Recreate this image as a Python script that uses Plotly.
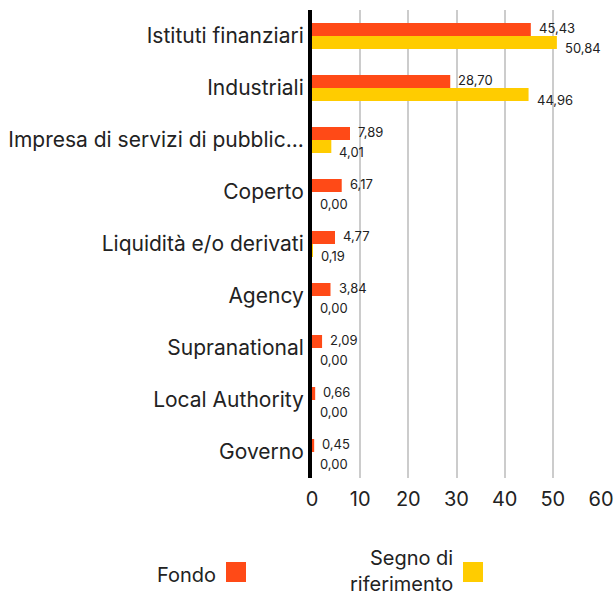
import plotly.graph_objects as go

categories = ["Istituti finanziari", "Industriali", "Impresa di servizi di pubblic...",
              "Coperto", "Liquidità e/o derivati", "Agency", "Supranational",
              "Local Authority", "Governo"]
fondo = [45.43, 28.70, 7.89, 6.17, 4.77, 3.84, 2.09, 0.66, 0.45]
benchmark = [50.84, 44.96, 4.01, 0.00, 0.19, 0.00, 0.00, 0.00, 0.00]
series_names = ["Fondo", "Segno di<br>riferimento"]
x_ticks = [0, 10, 20, 30, 40, 50, 60]

FONT = "Inter"
colors = ["#FF4A17", "#FFCC00"]

fig = go.Figure()
for name, vals, col in zip(series_names, [fondo, benchmark], colors):
    fig.add_trace(go.Bar(
        y=categories, x=vals, orientation="h", name=name,
        marker=dict(color=col, line=dict(width=0)),
        showlegend=False, hoverinfo="x+y",
    ))


def fmt(v):
    return f"{v:.2f}".replace(".", ",")


# value labels (Fondo above-centre, benchmark slightly below its bar)
for vals, yshift in [(fondo, 8), (benchmark, -12)]:
    for cat, v in zip(categories, vals):
        fig.add_annotation(x=v, y=cat, xref="x", yref="y", text=fmt(v),
                           showarrow=False, xanchor="left", yanchor="middle",
                           xshift=6, yshift=yshift,
                           font=dict(family=FONT, size=13, color="#222222"))

fig.update_layout(
    width=614, height=596,
    margin=dict(l=312, r=13, t=10, b=118),
    paper_bgcolor="white", plot_bgcolor="white",
    barmode="group", bargap=0.5, bargroupgap=0,
    separators=",.",
    font=dict(family=FONT, color="#222222"),
    xaxis=dict(range=[0, 60], tickvals=x_ticks, showgrid=True,
               gridcolor="#cccccc", gridwidth=2, zeroline=False,
               automargin=False,
               ticks="outside", ticklen=3, tickcolor="rgba(0,0,0,0)",
               tickfont=dict(family=FONT, size=20, color="#222222")),
    yaxis=dict(autorange="reversed", showline=True, linecolor="black",
               linewidth=4, ticks="", automargin=False,
               showgrid=False,
               tickfont=dict(family=FONT, size=21, color="#222222")),
)

# legend drawn manually (text left of swatch)
def px_x(px):
    return (px - 312) / 289

def px_y(py):
    return (478 - py) / 468

legend_items = [(series_names[0], colors[0], 218, 226, 575),
                (series_names[1], colors[1], 455, 463, 571)]
for label, col, text_right, sq_left, ty in legend_items:
    fig.add_annotation(text=label, xref="paper", yref="paper",
                       x=px_x(text_right), y=px_y(ty), xanchor="right",
                       yanchor="middle", align="right", showarrow=False,
                       font=dict(family=FONT, size=20, color="#222222"))
    fig.add_shape(type="rect", xref="paper", yref="paper",
                  x0=px_x(sq_left), x1=px_x(sq_left + 20),
                  y0=px_y(582), y1=px_y(562),
                  fillcolor=col, line=dict(width=0))

fig.write_html("out.html", config={"displayModeBar": False},
               post_script="document.body.style.margin='0';")
